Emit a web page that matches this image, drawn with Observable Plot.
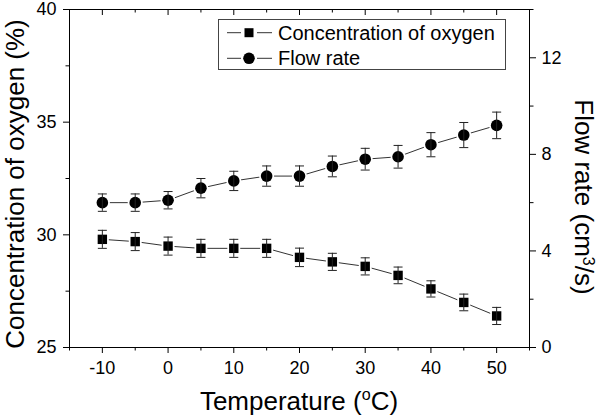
<!DOCTYPE html>
<html><head><meta charset="utf-8">
<script src="https://cdn.jsdelivr.net/npm/d3@7"></script>
<script src="https://cdn.jsdelivr.net/npm/@observablehq/plot@0.6"></script>
<style>body{margin:0;background:#fff} #chart{position:relative;width:600px;height:416px} svg{display:block}
#legend{position:absolute;left:218px;top:19px;width:288px;height:51px;border:1px solid #444;background:transparent;box-sizing:border-box;pointer-events:none}</style>
</head><body><div id="chart"><div id="legend"></div></div>
<script>
// ---- data ----
const temps = [-10, -5, 0, 5, 10, 15, 20, 25, 30, 35, 40, 45, 50];
const oxygen = [29.8, 29.7, 29.5, 29.4, 29.4, 29.4, 29.0, 28.8, 28.6, 28.2, 27.6, 27.0, 26.4];
const oxygenErr = [0.4, 0.4, 0.4, 0.4, 0.4, 0.4, 0.41, 0.38, 0.38, 0.37, 0.36, 0.37, 0.38];
const flow = [6.0, 6.0, 6.1, 6.6, 6.9, 7.1, 7.1, 7.5, 7.8, 7.9, 8.4, 8.8, 9.2];
const flowErr = [0.36, 0.36, 0.36, 0.4, 0.4, 0.42, 0.42, 0.43, 0.45, 0.47, 0.5, 0.52, 0.55];
const seriesNames = ["Concentration of oxygen", "Flow rate"];
const xMajor = [-10, 0, 10, 20, 30, 40, 50];
const xMinor = [-15, -5, 5, 15, 25, 35, 45, 55];
const leftMajor = [25, 30, 35, 40];
const leftMinor = [27.5, 32.5, 37.5];
const rightMajor = [0, 4, 8, 12];
const rightMinor = [2, 6, 10, 14];

// ---- layout ----
const W = 600, H = 416, mt = 9, mb = 69, ml = 69, mr = 71;
const yMin = 25, yMax = 40, fMax = 14;
const k = (yMax - yMin) / fMax;
const toLeft = f => yMin + f * k;
const pxPerY = (H - mt - mb) / (yMax - yMin);
const rows = temps.map((t, i) => ({
  t, o: oxygen[i], oe: oxygenErr[i], f: toLeft(flow[i]), fe: flowErr[i] * k
}));
const cap = {draw(ctx, size) { const r = Math.sqrt(size / Math.PI); ctx.moveTo(-r, 0); ctx.lineTo(r, 0); }};
const font = "'Liberation Sans', Arial, Helvetica, sans-serif";
const lineCol = "#333", errCol = "#222";
const MAJ = 6, MIN = 3.5, FS = 18;
const none = () => "";

const plot = Plot.plot({
  width: W, height: H,
  marginTop: mt, marginBottom: mb, marginLeft: ml, marginRight: mr,
  style: {fontFamily: font, color: "#000", background: "#fff", overflow: "visible"},
  x: {domain: [-15, 55], label: null},
  y: {domain: [yMin, yMax], label: null},
  marks: [
    Plot.frame({stroke: "#000", strokeWidth: 1}),
    // bottom
    Plot.axisX({anchor: "bottom", ticks: xMajor, tickSize: MAJ, tickPadding: 8, fontSize: FS, tickFormat: d => String(d), label: null}),
    Plot.axisX({anchor: "bottom", ticks: xMinor, tickSize: MIN, tickFormat: none, label: null}),
    // top (inward)
    Plot.ruleX(xMajor, {y1: yMax, y2: yMax - MAJ / pxPerY, stroke: "#000", strokeWidth: 1}),
    Plot.ruleX(xMinor.slice(1, -1), {y1: yMax, y2: yMax - MIN / pxPerY, stroke: "#000", strokeWidth: 1}),
    // left
    Plot.axisY({anchor: "left", ticks: leftMajor, tickSize: MAJ, tickPadding: 7, fontSize: FS, tickFormat: d => String(d), label: null}),
    Plot.axisY({anchor: "left", ticks: leftMinor, tickSize: MIN, tickFormat: none, label: null}),
    // right (flow rate)
    Plot.axisY({anchor: "right", ticks: rightMajor.map(toLeft), tickSize: MAJ, tickPadding: 6, fontSize: FS,
      tickFormat: d => String(Math.round((d - yMin) / k * 1e6) / 1e6), label: null}),
    Plot.axisY({anchor: "right", ticks: rightMinor.map(toLeft), tickSize: MIN, tickFormat: none, label: null}),
    // series
    Plot.line(rows, {x: "t", y: "o", stroke: lineCol, strokeWidth: 1}),
    Plot.line(rows, {x: "t", y: "f", stroke: lineCol, strokeWidth: 1}),
    Plot.dot(rows, {x: "t", y: "o", symbol: "square", r: 5.3, fill: "#000", stroke: "#fff", strokeWidth: 3.5, paintOrder: "stroke"}),
    Plot.dot(rows, {x: "t", y: "f", symbol: "circle", r: 5.8, fill: "#000", stroke: "#fff", strokeWidth: 3.5, paintOrder: "stroke"}),
    Plot.ruleX(rows, {x: "t", y1: d => d.o - d.oe, y2: d => d.o + d.oe, stroke: errCol, strokeWidth: 1}),
    Plot.ruleX(rows, {x: "t", y1: d => d.f - d.fe, y2: d => d.f + d.fe, stroke: errCol, strokeWidth: 1}),
    Plot.dot(rows, {x: "t", y: d => d.o - d.oe, symbol: cap, r: 4.5, stroke: errCol, fill: "none", strokeWidth: 1}),
    Plot.dot(rows, {x: "t", y: d => d.o + d.oe, symbol: cap, r: 4.5, stroke: errCol, fill: "none", strokeWidth: 1}),
    Plot.dot(rows, {x: "t", y: d => d.f - d.fe, symbol: cap, r: 4.5, stroke: errCol, fill: "none", strokeWidth: 1}),
    Plot.dot(rows, {x: "t", y: d => d.f + d.fe, symbol: cap, r: 4.5, stroke: errCol, fill: "none", strokeWidth: 1})
  ]
});
const chart = document.getElementById("chart");
chart.insertBefore(plot, chart.firstChild);

// ---- titles & legend ----
const svg = d3.select(plot);
const g = svg.append("g").attr("font-family", font).attr("fill", "#000").attr("text-anchor", "start");
const fs = 26;
function titleWithSup(sel, before, sup, after, raise) {
  sel.append("tspan").text(before);
  sel.append("tspan").attr("font-size", fs * 0.62).attr("dy", -raise).text(sup);
  sel.append("tspan").attr("dy", raise).text(after);
}
titleWithSup(g.append("text").attr("x", 299).attr("y", 410).attr("text-anchor", "middle").attr("font-size", fs),
  "Temperature (", "o", "C)", 10);
g.append("text").attr("transform", "translate(23.5,184) rotate(-90)").attr("text-anchor", "middle")
  .attr("font-size", fs).text("Concentration of oxygen (%)");
titleWithSup(g.append("text").attr("transform", "translate(575,197) rotate(90)").attr("text-anchor", "middle").attr("font-size", fs),
  "Flow rate (cm", "3", "/s)", 8);

const lg = g.append("g");
const rowsY = [32.7, 58.3];
rowsY.forEach((cy, i) => {
  lg.append("path").attr("d", `M227,${cy}H241M257,${cy}H272`).attr("style", `stroke:${lineCol};stroke-width:1px;fill:none`);
  if (i === 0) lg.append("path").attr("d", `M244.5,${cy - 4.5}h9v9h-9z`).attr("style", "fill:#000;stroke:none");
  else lg.append("circle").attr("cx", 249).attr("cy", cy).attr("r", 5.8).attr("style", "fill:#000;stroke:none");
  lg.append("text").attr("x", 278).attr("y", cy + 6.8).attr("font-size", 20).attr("text-anchor", "start").text(seriesNames[i]);
});
</script>
</body></html>
